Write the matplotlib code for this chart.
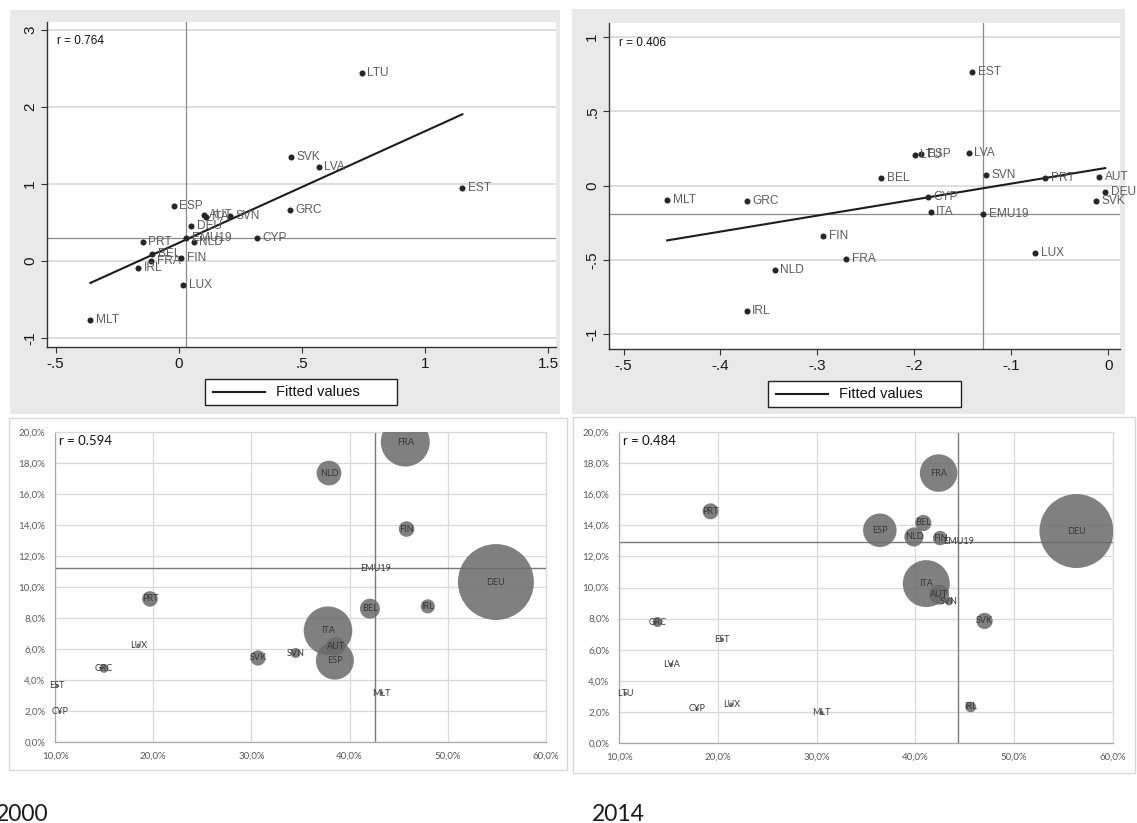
import numpy as np
import matplotlib.pyplot as plt
from matplotlib.patches import Rectangle
from matplotlib.lines import Line2D

W, H = 1137, 823

# ---- 2000, standardized indicators (top left) ----
s00_names = ["LTU", "SVK", "LVA", "EST", "GRC", "ESP", "AUT", "ITA", "SVN", "DEU",
             "NLD", "CYP", "PRT", "BEL", "FRA", "FIN", "IRL", "LUX", "MLT"]
s00_x = [0.742, 0.457, 0.568, 1.151, 0.452, -0.021, 0.101, 0.112, 0.209, 0.051,
         0.060, 0.317, -0.146, -0.107, -0.113, 0.010, -0.166, 0.017, -0.359]
s00_y = [2.446, 1.355, 1.221, 0.944, 0.671, 0.714, 0.606, 0.576, 0.593, 0.455,
         0.251, 0.307, 0.247, 0.095, 0.000, 0.039, -0.091, -0.312, -0.758]
s00_emu = (0.029, 0.303)
s00_r = "r = 0.764"

# ---- 2014, standardized indicators (top right) ----
s14_names = ["EST", "LTU", "ESP", "LVA", "BEL", "SVN", "PRT", "AUT", "DEU", "SVK",
             "MLT", "GRC", "CYP", "ITA", "FIN", "FRA", "LUX", "NLD", "IRL"]
s14_x = [-0.140, -0.1996, -0.193, -0.144, -0.234, -0.126, -0.065, -0.009, -0.003, -0.013,
         -0.455, -0.373, -0.186, -0.183, -0.294, -0.2705, -0.075, -0.344, -0.373]
s14_y = [0.765, 0.206, 0.212, 0.217, 0.054, 0.072, 0.049, 0.060, -0.040, -0.103,
         -0.100, -0.103, -0.074, -0.179, -0.336, -0.492, -0.454, -0.570, -0.841]
s14_emu = (-0.129, -0.194)
s14_r = "r = 0.406"

s00_xticks = [-0.5, 0, 0.5, 1, 1.5]
s00_xlabels = ["-.5", "0", ".5", "1", "1.5"]
s00_yticks = [-1, 0, 1, 2, 3]
s00_ylabels = ["-1", "0", "1", "2", "3"]
s14_xticks = [-0.5, -0.4, -0.3, -0.2, -0.1, 0]
s14_xlabels = ["-.5", "-.4", "-.3", "-.2", "-.1", "0"]
s14_yticks = [-1, -0.5, 0, 0.5, 1]
s14_ylabels = ["-1", "-.5", "0", ".5", "1"]

# ---- bubble charts: x share, y share, bubble weight ----
b00_names = ["DEU", "FRA", "ITA", "ESP", "NLD", "BEL", "AUT", "FIN", "PRT", "IRL",
             "SVK", "SVN", "GRC", "LUX", "EST", "CYP", "MLT"]
b00_x = [54.9, 45.67, 37.8, 38.5, 37.9, 42.07, 38.6, 45.8, 19.67, 47.96,
         30.67, 34.5, 15.0, 18.5, 10.2, 10.5, 43.26]
b00_y = [10.32, 19.35, 7.18, 5.25, 17.35, 8.6, 6.17, 13.74, 9.23, 8.75,
         5.42, 5.74, 4.75, 6.24, 3.63, 1.94, 3.16]
b00_w = [1444, 600, 590, 361, 154, 100, 90, 61, 61, 50,
         58, 25, 20, 3, 3, 3, 3]
b00_emu = (42.6, 11.2)
b00_r = "r = 0.594"

b14_names = ["DEU", "FRA", "ITA", "ESP", "NLD", "BEL", "AUT", "FIN", "PRT", "IRL",
             "SVK", "SVN", "GRC", "LUX", "EST", "CYP", "MLT", "LVA", "LTU"]
b14_x = [56.3, 42.35, 41.1, 36.4, 39.85, 40.8, 42.4, 42.5, 19.27, 45.6,
         47.0, 43.4, 13.9, 21.36, 20.4, 17.9, 30.5, 15.3, 10.66]
b14_y = [13.63, 17.36, 10.25, 13.68, 13.25, 14.15, 9.54, 13.18, 14.9, 2.32,
         7.85, 9.1, 7.78, 2.47, 6.65, 2.19, 1.93, 5.04, 3.17]
b14_w = [1369, 353, 552, 282, 92, 66, 100, 52, 64, 29,
         66, 16, 25, 4, 4, 4, 4, 4, 4]
b14_emu = (44.35, 12.93)
b14_r = "r = 0.484"

pct_ticks_x = [10, 20, 30, 40, 50, 60]
pct_labels_x = ["10,0%", "20,0%", "30,0%", "40,0%", "50,0%", "60,0%"]
pct_ticks_y = [0, 2, 4, 6, 8, 10, 12, 14, 16, 18, 20]
pct_labels_y = ["0,0%", "2,0%", "4,0%", "6,0%", "8,0%", "10,0%", "12,0%",
                "14,0%", "16,0%", "18,0%", "20,0%"]


def frac(x0, y0, x1, y1):
    # pixel box (top-left origin) -> figure fraction rect
    return [x0 / W, 1 - y1 / H, (x1 - x0) / W, (y1 - y0) / H]


def fig_box(x0, y0, x1, y1, **kw):
    l, b, w, h = frac(x0, y0, x1, y1)
    fig.add_artist(Rectangle((l, b), w, h, transform=fig.transFigure, zorder=0, **kw))


fig = plt.figure(figsize=(W / 100, H / 100), dpi=100)
fig.patch.set_facecolor("white")

# stata-like graph regions
fig_box(10, 10, 560, 414, facecolor="#e9e9e9", edgecolor="none")
fig_box(572, 9, 1125, 414, facecolor="#e9e9e9", edgecolor="none")
# excel-like chart areas
fig_box(9, 418, 567, 770, facecolor="white", edgecolor="#d9d9d9", lw=1)
fig_box(573, 417, 1135, 773, facecolor="white", edgecolor="#d9d9d9", lw=1)


def stata_panel(box, names, xs, ys, emu, r_txt, xlim, ylim,
                xticks, xlabels, yticks, ylabels, leg_box):
    ax = fig.add_axes(frac(*box))
    ax.set_facecolor("white")
    ax.set_xlim(*xlim)
    ax.set_ylim(*ylim)
    for yv in yticks:
        ax.axhline(yv, color="#dedede", lw=1.4, zorder=0)
    ax.axvline(emu[0], color="#8a8a8a", lw=0.9, zorder=1)
    ax.axhline(emu[1], color="#8a8a8a", lw=0.9, zorder=1)

    xs_a, ys_a = np.array(xs), np.array(ys)
    slope, icpt = np.polyfit(xs_a, ys_a, 1)
    xf = np.array([xs_a.min(), xs_a.max()])
    ax.plot(xf, slope * xf + icpt, color="#1c1c1c", lw=1.5, zorder=3)

    ax.scatter(list(xs) + [emu[0]], list(ys) + [emu[1]], s=19, color="#262626",
               zorder=4, linewidths=0)
    for n, xv, yv in zip(names + ["EMU19"], list(xs) + [emu[0]], list(ys) + [emu[1]]):
        ax.annotate(n, (xv, yv), xytext=(4, 0), textcoords="offset points",
                    va="center", ha="left", fontsize=8.6, color="#5c5c5c",
                    family="Liberation Sans", zorder=5)
    ax.text(0.02, 0.94, r_txt, transform=ax.transAxes, fontsize=8.5,
            family="Liberation Sans", color="#111111", va="center")

    for side in ("top", "right"):
        ax.spines[side].set_visible(False)
    for side in ("left", "bottom"):
        ax.spines[side].set_color("#333333")
        ax.spines[side].set_linewidth(1.0)
    ax.set_xticks(xticks)
    ax.set_xticklabels(xlabels)
    ax.set_yticks(yticks)
    ax.set_yticklabels(ylabels, rotation=90, va="center")
    ax.tick_params(length=4, width=0.8, color="#333333", labelsize=11,
                   labelcolor="#1a1a1a", pad=3)
    for lab in ax.get_xticklabels() + ax.get_yticklabels():
        lab.set_family("Liberation Sans")

    # legend box under the plot
    x0, y0, x1, y1 = leg_box
    fig_box(x0, y0, x1, y1, facecolor="white", edgecolor="#222222", lw=1)
    ym = 1 - (y0 + y1) / 2 / H
    fig.add_artist(Line2D([(x0 + 8) / W, (x0 + 60) / W], [ym, ym],
                          transform=fig.transFigure, color="#1c1c1c", lw=1.5))
    fig.text((x0 + 71) / W, ym, "Fitted values", fontsize=10.5,
             family="Liberation Sans", color="#111111", va="center", ha="left")
    return ax


def bubble_panel(box, names, xs, ys, ws, emu, r_txt):
    ax = fig.add_axes(frac(*box))
    ax.set_xlim(10, 60)
    ax.set_ylim(0, 20)
    ax.set_xticks(pct_ticks_x)
    ax.set_xticklabels(pct_labels_x)
    ax.set_yticks(pct_ticks_y)
    ax.set_yticklabels(pct_labels_y)
    ax.grid(True, color="#d9d9d9", lw=0.9)
    ax.set_axisbelow(True)
    for side in ("top", "right"):
        ax.spines[side].set_color("#d9d9d9")
        ax.spines[side].set_linewidth(0.9)
    for side in ("left", "bottom"):
        ax.spines[side].set_color("#a8a8a8")
        ax.spines[side].set_linewidth(0.9)
    ax.tick_params(length=0, labelsize=7, labelcolor="#595959", pad=7)
    for lab in ax.get_xticklabels() + ax.get_yticklabels():
        lab.set_family("Lato")

    ax.axvline(emu[0], color="#7a7a7a", lw=1.0, zorder=2)
    ax.axhline(emu[1], color="#7a7a7a", lw=1.0, zorder=2)

    sizes = 2.07 * np.array(ws)
    ax.scatter(xs, ys, s=sizes, color="#6a6a6a", alpha=0.85, linewidths=0, zorder=3)
    for n, xv, yv in zip(names + ["EMU19"], list(xs) + [emu[0]], list(ys) + [emu[1]]):
        ax.text(xv, yv, n, fontsize=6.5, family="Lato", color="#383838",
                ha="center", va="center", zorder=5)
    ax.text(0.008, 0.97, r_txt, transform=ax.transAxes, fontsize=9.5,
            family="Lato", color="#111111", va="center", ha="left")
    return ax


stata_panel((47, 22, 556, 347), s00_names, s00_x, s00_y, s00_emu, s00_r,
            (-0.535, 1.531), (-1.113, 3.104),
            s00_xticks, s00_xlabels, s00_yticks, s00_ylabels, (205, 379, 397, 405))
stata_panel((609, 23, 1120, 349), s14_names, s14_x, s14_y, s14_emu, s14_r,
            (-0.515, 0.0122), (-1.099, 1.094),
            s14_xticks, s14_xlabels, s14_yticks, s14_ylabels, (768, 381, 961, 407))

bubble_panel((55, 432, 546, 742), b00_names, b00_x, b00_y, b00_w, b00_emu, b00_r)
bubble_panel((619, 432, 1113, 743), b14_names, b14_x, b14_y, b14_w, b14_emu, b14_r)

fig.text(-4 / W, 2 / H, "2000", fontsize=16.5, family="Lato", color="#1a1a1a",
         va="baseline", ha="left")
fig.text(592 / W, 2 / H, "2014", fontsize=16.5, family="Lato", color="#1a1a1a",
         va="baseline", ha="left")

fig.savefig("out.png", dpi=100)
